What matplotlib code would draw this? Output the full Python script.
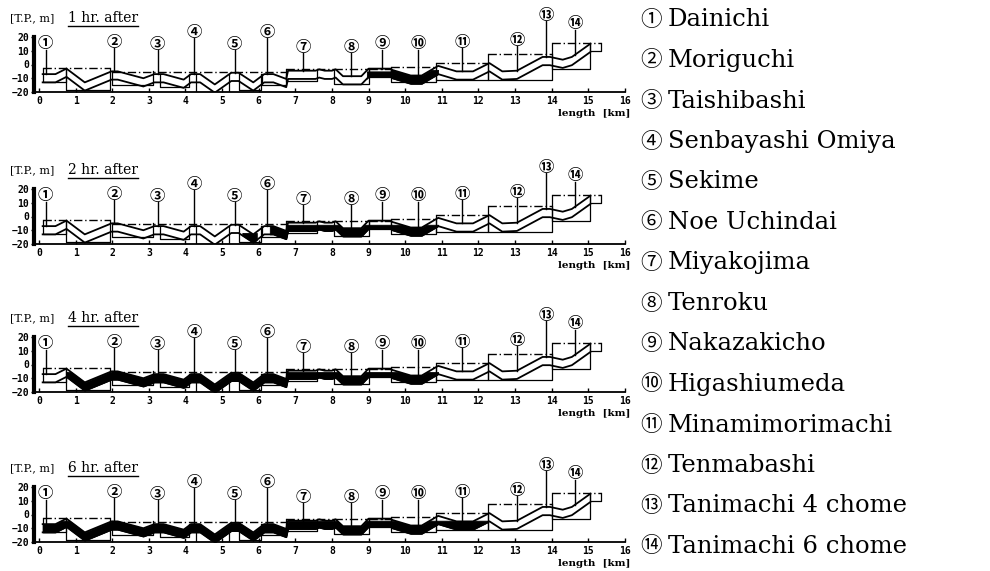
import numpy as np
import matplotlib.pyplot as plt
from matplotlib.lines import Line2D

W, H = 990, 571

hours = [1, 2, 4, 6]

station_marks = ["①", "②", "③", "④", "⑤", "⑥", "⑦", "⑧", "⑨", "⑩", "⑪", "⑫", "⑬", "⑭"]
station_names = ["Dainichi", "Moriguchi", "Taishibashi", "Senbayashi Omiya", "Sekime",
                 "Noe Uchindai", "Miyakojima", "Tenroku", "Nakazakicho", "Higashiumeda",
                 "Minamimorimachi", "Tenmabashi", "Tanimachi 4 chome", "Tanimachi 6 chome"]
station_km = [0.18, 2.06, 3.24, 4.24, 5.34, 6.22, 7.2, 8.52, 9.36, 10.34, 11.56, 13.05, 13.84, 14.63]
marker_level = [15.5, 16.5, 15, 24, 15, 24, 13, 13, 15.5, 15.5, 16.5, 18, 36, 30]

# tunnel crown along the line [T.P., m]
crown_km = [0.10, 0.45, 0.75, 1.25, 1.98, 2.15, 2.85, 3.15, 3.40, 3.95, 4.15, 4.40, 4.80,
            5.25, 5.45, 5.85, 6.15, 6.40, 6.75, 6.80, 7.55, 7.65, 7.80, 8.00, 8.10, 8.30,
            8.80, 9.00, 9.60, 9.65, 10.15, 10.45, 10.90, 11.40, 11.85, 12.30, 12.65, 13.05,
            13.75, 13.95, 14.30, 14.55, 15.05]
crown_level = [-7, -7, -3, -13, -5, -5, -10, -7, -7, -11, -7, -7, -14.5,
               -6, -6, -13, -7, -7, -10.5, -4.5, -4.5, -3.5, -4.5, -4.5, -3.5, -8.5,
               -8.5, -3, -3, -4, -8, -8, -1, -5, -5, 1, -5, -4.5,
               5.5, 5.5, 3.5, 5.5, 15]
tunnel_height = 6.0

# ground line (dash-dot) per section
ground_x0 = [0.1, 2.0, 6.75, 8.05, 9.0, 9.6, 10.85, 12.25, 14.0]
ground_x1 = [1.95, 6.75, 8.05, 9.0, 9.6, 10.85, 12.25, 14.0, 15.35]
ground_level = [-2.5, -5.5, -3.5, -3.5, -3, -1.5, 1, 7.5, 15.5]

# station / open-cut boxes
box_x0 = [0.1, 0.75, 2.0, 3.3, 4.3, 5.45, 6.1, 6.75, 8.05, 9.0, 9.6, 10.85, 12.25, 14.0, 15.05]
box_x1 = [0.75, 1.95, 3.1, 4.1, 5.2, 6.05, 6.75, 7.6, 9.0, 9.6, 10.85, 12.25, 14.0, 15.05, 15.35]
box_top = [-2.5, -2.5, -5, -7, -7, -7, -7, -3.5, -3.5, -3, -1.5, 1, 7.5, 15.5, 15.5]
box_bottom = [-12.5, -18.5, -15, -16.5, -20, -18.5, -15, -12, -14, -9, -13, -11, -11, -3, 9.5]

# inundated reaches for each elapsed time: start km, end km, water level
water_start = [[8.95, 9.6], [5.55, 6.3], [0.75], [0.1]]
water_end = [[9.6, 10.9], [5.95, 10.9], [10.9], [12.25]]
water_level = [[-5.0, -4.0], [-12.0, -6.0], [-5.5], [-4.5]]

axes_top_px = [37, 189, 337, 487]
axes_h_px = 55

fig = plt.figure(figsize=(W / 100, H / 100), dpi=100)
renderer = fig.canvas.get_renderer()

x = np.linspace(crown_km[0], crown_km[-1], 4000)
crown = np.interp(x, crown_km, crown_level)
invert = crown - tunnel_height
mono = "DejaVu Sans Mono"
serif = ["DejaVu Serif", "Noto Sans CJK JP"]

for i, hr in enumerate(hours):
    top = axes_top_px[i]
    ax = fig.add_axes([33.5 / W, 1 - (top + axes_h_px) / H, 591.5 / W, axes_h_px / H])
    ax.set_xlim(-0.15, 16)
    ax.set_ylim(-20, 20)
    for s in ("top", "right"):
        ax.spines[s].set_visible(False)
    ax.spines["left"].set_linewidth(3)
    ax.spines["bottom"].set_linewidth(1.3)
    ax.set_xticks(range(0, 17))
    ax.set_yticks([20, 10, 0, -10, -20])
    ax.tick_params(axis="x", direction="in", length=3, width=1, labelsize=7, pad=3)
    ax.tick_params(axis="y", direction="out", length=2, width=1, labelsize=7, pad=1)
    for lab in ax.get_xticklabels() + ax.get_yticklabels():
        lab.set_family(mono)
        lab.set_fontweight("bold")
    ax.patch.set_visible(False)

    # ground line and boxes
    for g0, g1, gl in zip(ground_x0, ground_x1, ground_level):
        ax.plot([g0, g1], [gl, gl], color="black", lw=1.0, ls=(0, (6, 2, 1, 2)))
    for b0, b1, bt, bb in zip(box_x0, box_x1, box_top, box_bottom):
        ax.plot([b0, b0, b1, b1], [bt, bb, bb, bt], color="black", lw=0.9)

    # flooded parts of the tunnel
    for w0, w1, wl in zip(water_start[i], water_end[i], water_level[i]):
        wet = (x >= w0) & (x <= w1)
        surf = np.minimum(crown, wl)
        ax.fill_between(x, invert, surf, where=wet & (surf > invert), color="black", lw=0.6)

    # tunnel crown and invert
    ax.plot(crown_km, crown_level, color="black", lw=1.3)
    ax.plot(crown_km, np.array(crown_level) - tunnel_height, color="black", lw=1.3)

    # station markers
    for mk, sk, ml in zip(station_marks, station_km, marker_level):
        c = np.interp(sk, crown_km, crown_level)
        ax.plot([sk, sk], [c, ml - 4.6], color="black", lw=1.0, clip_on=False)
        ax.text(sk, ml, mk, ha="center", va="center", fontsize=11, fontweight="bold",
                family="Noto Sans CJK JP", clip_on=False)

    # heading and axis note
    fig.text(10 / W, 1 - (top - 19) / H, "[T.P., m]", fontsize=8, family=serif, va="center")
    t = fig.text(68 / W, 1 - (top - 19) / H, f"{hr} hr. after", fontsize=10,
                 family=serif, va="center")
    bb = t.get_window_extent(renderer)
    fig.add_artist(Line2D([bb.x0 / W, bb.x1 / W], [(bb.y0 - 1) / H] * 2,
                          color="black", lw=1.0))
    fig.text(630 / W, 1 - (top + axes_h_px + 22) / H, "length  [km]", fontsize=7.5,
             family=serif, fontweight="bold", ha="right", va="center")

# station list on the right
for k, (mk, name) in enumerate(zip(station_marks, station_names)):
    yc = 20 + k * 40.5
    fig.text(640 / W, 1 - yc / H, mk, fontsize=15.5, family="Noto Sans CJK JP",
             va="center")
    fig.text(668 / W, 1 - yc / H, name, fontsize=17.5, family=serif, va="center")

fig.savefig("out.png", dpi=100)
